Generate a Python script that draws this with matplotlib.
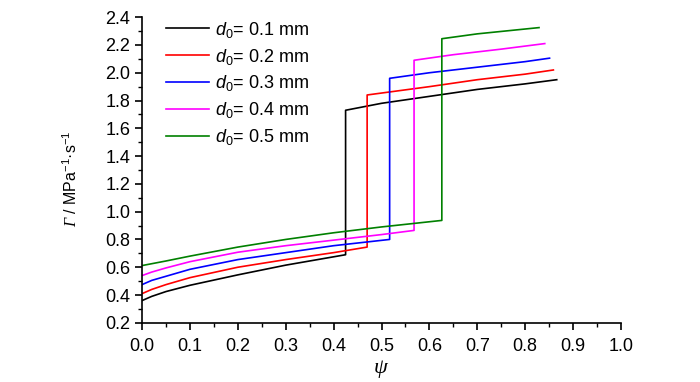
import numpy as np
import matplotlib
matplotlib.use("Agg")
import matplotlib.pyplot as plt
from matplotlib.ticker import MultipleLocator

plt.rcParams['font.family'] = ['Liberation Sans Narrow', 'Liberation Sans', 'DejaVu Sans']
plt.rcParams['mathtext.fontset'] = 'custom'
plt.rcParams['mathtext.rm'] = 'Liberation Sans'
plt.rcParams['mathtext.bf'] = 'Liberation Serif:italic'
plt.rcParams['mathtext.sf'] = 'Liberation Sans:italic'

# d0 values (mm) and colours
d0 = [0.1, 0.2, 0.3, 0.4, 0.5]
colors = ['black', 'red', 'blue', 'magenta', 'green']

# lower branch (before the jump)
low_psi = [
    [0.0, 0.02, 0.05, 0.1, 0.2, 0.3, 0.425],
    [0.0, 0.02, 0.05, 0.1, 0.2, 0.3, 0.4, 0.47],
    [0.0, 0.02, 0.05, 0.1, 0.2, 0.3, 0.4, 0.517],
    [0.0, 0.02, 0.05, 0.1, 0.2, 0.3, 0.4, 0.5, 0.568],
    [0.0, 0.05, 0.1, 0.2, 0.3, 0.4, 0.5, 0.626],
]
low_gam = [
    [0.36, 0.39, 0.425, 0.47, 0.545, 0.615, 0.69],
    [0.41, 0.44, 0.475, 0.525, 0.60, 0.655, 0.705, 0.745],
    [0.475, 0.505, 0.535, 0.585, 0.655, 0.705, 0.755, 0.80],
    [0.54, 0.565, 0.595, 0.64, 0.708, 0.755, 0.795, 0.835, 0.865],
    [0.612, 0.645, 0.68, 0.745, 0.80, 0.848, 0.89, 0.937],
]

# upper branch (after the jump)
up_psi = [
    [0.425, 0.5, 0.6, 0.7, 0.8, 0.866],
    [0.47, 0.6, 0.7, 0.8, 0.859],
    [0.517, 0.6, 0.7, 0.8, 0.851],
    [0.568, 0.65, 0.75, 0.841],
    [0.626, 0.7, 0.829],
]
up_gam = [
    [1.73, 1.78, 1.83, 1.88, 1.92, 1.95],
    [1.84, 1.90, 1.95, 1.99, 2.02],
    [1.96, 2.00, 2.04, 2.08, 2.105],
    [2.09, 2.13, 2.17, 2.21],
    [2.245, 2.28, 2.325],
]

fig = plt.figure(figsize=(7, 3.82), dpi=100)
ax = fig.add_axes([0.203, 0.155, 0.684, 0.80])

for i in range(len(d0)):
    x = low_psi[i] + up_psi[i]
    y = low_gam[i] + up_gam[i]
    ax.plot(x, y, color=colors[i], lw=1.2,
            label=r'$\mathsf{d}_{\mathrm{0}}$= %.1f mm' % d0[i])

ax.set_xlim(0, 1.0)
ax.set_ylim(0.2, 2.4)
ax.xaxis.set_major_locator(MultipleLocator(0.1))
ax.xaxis.set_minor_locator(MultipleLocator(0.05))
ax.yaxis.set_major_locator(MultipleLocator(0.2))
ax.yaxis.set_minor_locator(MultipleLocator(0.1))
ax.xaxis.set_major_formatter(plt.FormatStrFormatter('%.1f'))
ax.yaxis.set_major_formatter(plt.FormatStrFormatter('%.1f'))

ax.spines['top'].set_visible(False)
ax.spines['right'].set_visible(False)
for s in ['left', 'bottom']:
    ax.spines[s].set_linewidth(1.2)
ax.tick_params(which='major', direction='out', length=5, width=1.2, labelsize=13)
ax.tick_params(axis='x', which='major', pad=6)
ax.tick_params(which='minor', direction='out', length=3, width=1.0)

ax.set_xlabel(r'$\mathbf{\psi}$', fontsize=16)
ax.xaxis.set_label_coords(0.5, -0.115)
ax.set_ylabel(r'$\mathbf{\Gamma}$ / MPa$^{\mathrm{-1}}$·s$^{\mathrm{-1}}$', fontsize=11.5)
ax.yaxis.set_label_coords(-0.13, 0.47)

ax.legend(loc='upper left', bbox_to_anchor=(0.015, 1.045), frameon=False,
          fontsize=13, handlelength=2.4, labelspacing=0.38, handletextpad=0.35)

fig.savefig('out.png', dpi=100)
